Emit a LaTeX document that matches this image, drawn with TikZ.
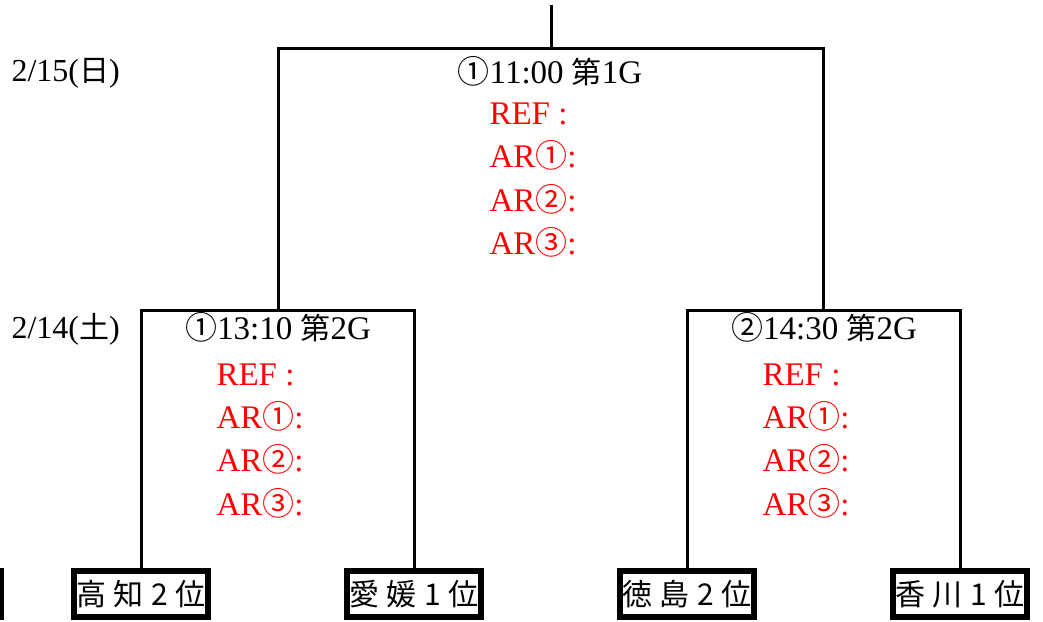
\documentclass[tikz,border=0pt]{standalone}
\usepackage{fontspec}
\setmainfont{Liberation Serif}
\newfontfamily\jp{Noto Sans CJK JP}
\newcommand{\J}[1]{{\jp\fontsize{30}{36}\selectfont #1}}
\newcommand{\C}[1]{{\jp\fontsize{32}{36}\selectfont #1}}
\newcommand{\gap}{\hspace{0.25em}}
\begin{document}
\begin{tikzpicture}[x=1pt,y=-1pt,line width=3pt,
  team/.style={draw,line width=6pt,fill=white,minimum width=134pt,minimum height=46pt,inner sep=0pt,font=\jp\fontsize{30}{30}\selectfont},
  hdr/.style={anchor=base,inner sep=0pt,font=\fontsize{33}{38}\selectfont},
  reftxt/.style={anchor=base west,inner sep=0pt,text=red,font=\fontsize{33}{38}\selectfont},
  datetxt/.style={anchor=base west,inner sep=0pt,font=\fontsize{32}{38}\selectfont}]
\useasboundingbox (0,0) rectangle (1043,621);
% teams
\node[team] (prev) at (-66,594) {};
\node[team] (kochi) at (141,594) {高\gap 知\gap 2\gap 位};
\node[team] (ehime) at (414,594) {愛\gap 媛\gap 1\gap 位};
\node[team] (toku) at (687,594) {徳\gap 島\gap 2\gap 位};
\node[team] (kaga) at (960,594) {香\gap 川\gap 1\gap 位};
% junctions
\coordinate (topend) at (551,5);
\coordinate (j1) at (551,48);
\coordinate (j2) at (278,310);
\coordinate (j3) at (823,310);
% connectors
\draw (topend) -- (j1);
\draw (j2) |- (j1) -| (j3);
\draw (kochi.north) |- (j2) -| (ehime.north);
\draw (toku.north) |- (j3) -| (kaga.north);
% dates
\node[datetxt] (d15) at (10,81) {2/15(\J{日})};
\node[datetxt] (d14) at (10,338) {2/14(\J{土})};
% game 1
\node[hdr] (h1) at (550,83) {\C{①}11:00 \J{第}1G};
\node[reftxt] (r1a) at (488,124) {REF :};
\node[reftxt] (r1b) at (488,167.5) {AR\C{①}:};
\node[reftxt] (r1c) at (488,211) {AR\C{②}:};
\node[reftxt] (r1d) at (488,254.5) {AR\C{③}:};
% game 2 left
\node[hdr] (h2) at (278,339) {\C{①}13:10 \J{第}2G};
\node[reftxt] (r2a) at (215,385) {REF :};
\node[reftxt] (r2b) at (215,428.3) {AR\C{①}:};
\node[reftxt] (r2c) at (215,471.7) {AR\C{②}:};
\node[reftxt] (r2d) at (215,515) {AR\C{③}:};
% game 2 right
\node[hdr] (h3) at (824,339) {\C{②}14:30 \J{第}2G};
\node[reftxt] (r3a) at (761,385) {REF :};
\node[reftxt] (r3b) at (761,428.3) {AR\C{①}:};
\node[reftxt] (r3c) at (761,471.7) {AR\C{②}:};
\node[reftxt] (r3d) at (761,515) {AR\C{③}:};
\end{tikzpicture}
\end{document}
